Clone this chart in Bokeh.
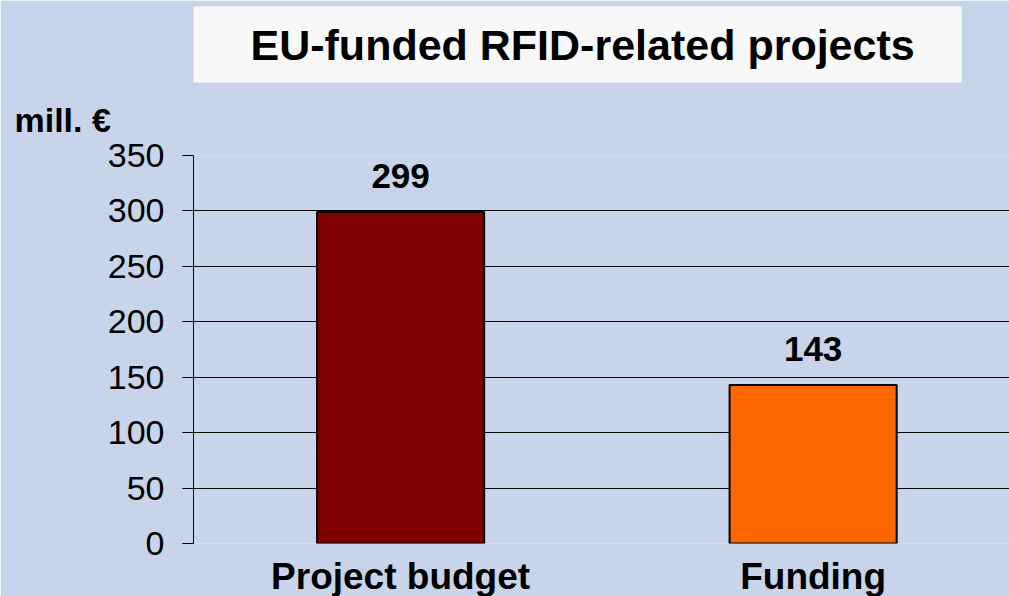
from bokeh.plotting import figure
from bokeh.models import Range1d, FixedTicker, Title, ColumnDataSource
from bokeh.core.properties import value
from bokeh.embed import file_html
from bokeh.resources import INLINE

# ---- data ----
categories = ["Project budget", "Funding"]
amounts = [299, 143]
bar_colors = ["#800000", "#FF6600"]
y_ticks = [0, 50, 100, 150, 200, 250, 300, 350]
title_text = "EU-funded RFID-related projects"
unit_text = "mill. \u20ac"

FONT = "Liberation Sans"
BG = "#c7d4e9"

xpos = list(range(len(categories)))
src = ColumnDataSource(dict(x=xpos, top=amounts, color=bar_colors,
                            label=[str(v) for v in amounts]))

p = figure(frame_width=816, frame_height=388,
           min_border_left=193, min_border_right=0,
           min_border_top=155, min_border_bottom=53,
           x_range=Range1d(-0.502, 1.476), y_range=Range1d(0, 350),
           output_backend="svg", toolbar_location=None)
p.background_fill_color = BG
p.border_fill_color = BG
p.outline_line_color = None

p.vbar(x="x", top="top", width=0.405, bottom=0, fill_color="color",
       line_color="black", line_width=2, source=src)

p.text(x="x", y="top", text="label", source=src, text_align="center",
       text_baseline="alphabetic", y_offset=-36,
       text_font=value(FONT), text_font_style="bold",
       text_font_size="35px", text_color="black")

# titles (stacked above the frame: first added is closest to the frame)
t1 = Title(text=unit_text, align="left", offset=-179, standoff=33,
           text_font=FONT, text_font_style="bold", text_font_size="34px",
           text_color="black")
t2 = Title(text=title_text, align="left", offset=0, standoff=0,
           text_font=FONT, text_font_style="bold", text_font_size="43px",
           text_color="black", background_fill_color="#f8f8f8",
           padding=(57, 47, 14, 14))
p.add_layout(t1, "above")
p.add_layout(t2, "above")

# y axis
yax = p.yaxis[0]
yax.ticker = FixedTicker(ticks=y_ticks)
yax.axis_line_color = "black"
yax.major_tick_line_color = "black"
yax.major_tick_in = 0
yax.major_tick_out = 11
yax.minor_tick_line_color = None
yax.major_label_text_font = FONT
yax.major_label_text_font_size = "34px"
yax.major_label_text_color = "black"
yax.major_label_standoff = 18

# x axis
xax = p.xaxis[0]
xax.ticker = FixedTicker(ticks=xpos)
xax.major_label_overrides = {i: c for i, c in zip(xpos, categories)}
xax.axis_line_color = None
xax.major_tick_line_color = None
xax.minor_tick_line_color = None
xax.major_label_text_font = FONT
xax.major_label_text_font_style = "bold"
xax.major_label_text_font_size = "37px"
xax.major_label_text_color = "black"
xax.major_label_standoff = 6

p.xgrid.grid_line_color = None
p.ygrid.ticker = FixedTicker(ticks=y_ticks)
p.ygrid.grid_line_color = "black"
p.ygrid.grid_line_width = 1

open("out.html", "w").write(file_html(p, INLINE))
